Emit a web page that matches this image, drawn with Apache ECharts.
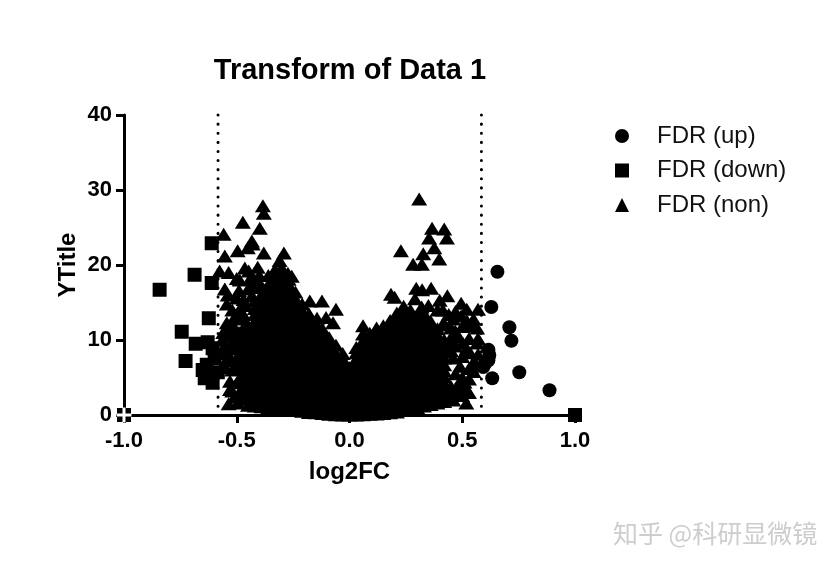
<!DOCTYPE html>
<html>
<head>
<meta charset="utf-8">
<style>html,body{margin:0;padding:0;background:#fff}#chart{width:839px;height:568px}</style>
<script src="https://cdn.jsdelivr.net/npm/echarts@6/dist/echarts.min.js"></script>
</head>
<body>
<div id="chart"></div>
<script>
var xTicks = [-1, -0.5, 0, 0.5, 1]
var yTicks = [0, 10, 20, 30, 40]
var cutoffs = [-0.583, 0.585]

var upPoints = [[0.656,19.1],[0.629,14.4],[0.709,11.7],[0.718,9.9],[0.753,5.7],[0.887,3.3],[0.633,4.9],
    [0.616,8.7],[0.62,8],[0.616,7.3],[0.6,6.8],[0.593,6.4]]

var downPoints = [[-1,0],[1,0],[-0.842,16.7],[-0.687,18.7],[-0.611,22.9],[-0.611,17.6],[-0.624,12.9],[-0.744,11.1],
    [-0.682,9.5],[-0.629,9.7],[-0.727,7.2],[-0.651,6],[-0.633,6.7],[-0.642,4.9],[-0.607,4.3],[-0.598,7.6],
    [-0.607,8.9],[-0.584,5.7]]

// dense middle part of the non significant points, one x per column
var coreX = [-0.475,-0.45,-0.42,-0.39,-0.36,-0.33,-0.3,-0.27,-0.24,-0.21,-0.18,-0.15,-0.12,-0.09,-0.06,-0.03,0,
    0.03,0.06,0.09,0.12,0.15,0.18,0.21,0.24,0.27,0.3,0.33,0.36,0.39,0.42,0.45]
var coreY = [
    [2.4,3.2,4.8,6.3,7.4,8.2,9.6,10.6,11.4,12.8],
    [1.3,2.1,3,3.8,4.6,5.5,6.3,7.1,8,8.8,9.6,10.5,11.3,12],
    [1.2,1.7,2.5,3.4,4.2,5,5.9,6.7,7.5,8.4,9.2,10,10.9,11.7,12.5,13.4,14.2,15.2],
    [1.1,1.9,2.8,3.6,4.4,5.3,6.1,6.9,7.8,8.6,9.4,10.3,11.1,11.9,12.8,13.6,14.4,15.3,16.1,17.2],
    [1,1.6,2.4,3.3,4.1,4.9,5.8,6.6,7.4,8.3,9.1,9.9,10.8,11.6,12.4,13.3,14.1,14.9,15.8,16.6,17.4,18.6],
    [0.9,1.8,2.7,3.5,4.3,5.2,6,6.8,7.7,8.5,9.3,10.2,11,11.8,12.7,13.5,14.3,15.2,16,16.8,17.7,18.5,19.4],
    [0.8,1.5,2.3,3.2,4,4.8,5.7,6.5,7.3,8.2,9,9.8,10.7,11.5,12.3,13.2,14,14.8,15.7,16.5,17.3,18.2,19,19.6],
    [0.7,1.6,2.5,3.3,4.1,5,5.8,6.6,7.5,8.3,9.1,10,10.8,11.6,12.5,13.3,14.1,15,15.8,16.6,17.4,18.1],
    [0.6,1.3,2.1,3,3.8,4.6,5.5,6.3,7.1,8,8.8,9.6,10.5,11.3,12.1,13,13.8,14.6,15.5,16.4],
    [0.5,1.4,2.3,3.1,3.9,4.8,5.6,6.4,7.3,8.1,8.9,9.8,10.6,11.4,12.3,13.1,13.9,14.8],
    [0.35,1.1,1.9,2.8,3.6,4.4,5.3,6.1,6.9,7.8,8.6,9.4,10.3,11.1,11.9,12.8,13.5],
    [0.3,1.2,2.1,2.9,3.7,4.6,5.4,6.2,7.1,7.9,8.7,9.6,10.4,11.2,12.2],
    [0.2,0.9,1.7,2.6,3.4,4.2,5.1,5.9,6.7,7.6,8.4,9.2,10.1,10.9,11.5],
    [0.1,1,1.9,2.7,3.5,4.4,5.2,6,6.9,7.7,8.5,9.4,10.3],
    [0.05,0.7,1.5,2.4,3.2,4,4.9,5.7,6.5,7.4,8.2,9.3],
    [0,0.8,1.7,2.5,3.3,4.2,5,5.8,6.7,7.5,8.2],
    [0,0.6,1.4,2.3,3.1,3.9,4.8,5.6,6.3],
    [0,0.8,1.7,2.5,3.3,4.2,5,5.8,6.7,7.5,8.3,9],
    [0.05,0.7,1.5,2.4,3.2,4,4.9,5.7,6.5,7.4,8.2,9,9.9,10.8,11.9],
    [0.1,1,1.9,2.7,3.5,4.4,5.2,6,6.9,7.7,8.5,9.4,10.2,10.9],
    [0.15,0.8,1.6,2.5,3.3,4.1,5,5.8,6.6,7.5,8.3,9.1,10,10.8,11.6],
    [0.2,1.1,2,2.8,3.6,4.5,5.3,6.1,7,7.8,8.6,9.5,10.3,11.1,11.9],
    [0.3,0.9,1.7,2.6,3.4,4.2,5.1,5.9,6.7,7.6,8.4,9.2,10.1,10.9,11.7,12.6],
    [0.4,1.2,2.1,2.9,3.7,4.6,5.4,6.2,7.1,7.9,8.7,9.6,10.4,11.2,12.1,12.9,13.6],
    [0.6,1.3,2.1,3,3.8,4.6,5.5,6.3,7.1,8,8.8,9.6,10.5,11.3,12.1,13,13.8,14.5],
    [0.8,1.6,2.5,3.3,4.1,5,5.8,6.6,7.5,8.3,9.1,10,10.8,11.6,12.5,13.2,14],
    [1,1.7,2.5,3.4,4.2,5,5.9,6.7,7.5,8.4,9.2,10,10.9,11.7,12.5,13.3],
    [1.2,2.1,3,3.8,4.6,5.5,6.3,7.1,8,8.8,9.6,10.5,11.2,12,12.8,13.6],
    [1.4,2.2,3,3.9,4.7,5.5,6.4,7.2,8,8.9,9.3,10.1,10.9,11.7,12.5],
    [1.6,2.5,3.4,4.2,5,5.9,6.7,7.4,8.2,9,9.9,10.7,11.5],
    [1.8,2.6,3.4,4.3,5.1,5.9,6.7,7.6,8.4,9.2,10],
    [2.2,3,3.8,8.6,9.4,10.3]
]

// points that stand apart around the dense part
var leftWing = [[-0.384,27.9],[-0.38,26.9],[-0.473,25.7],[-0.398,24.9],[-0.558,24.1],[-0.433,23.2],[-0.429,22.8],
    [-0.451,22.3],[-0.496,21.9],[-0.553,21.2],[-0.38,21.6],[-0.291,21.6],[-0.31,20.6],[-0.576,19.2],[-0.536,19],
    [-0.464,19.6],[-0.447,19.2],[-0.407,19.7],[-0.273,18.9],[-0.256,18.5],[-0.5,18.2],[-0.487,18],[-0.553,16.8],
    [-0.54,16],[-0.5,15.6],[-0.433,15.9],[-0.544,14.8],[-0.487,14.1],[-0.473,13.5],[-0.176,15.2],[-0.122,15.2],
    [-0.06,14.1],[-0.144,12.9],[-0.104,13],[-0.073,12.3],[-0.544,12.3],[-0.527,11.9],[-0.509,11.6],[-0.565,10],
    [-0.51,10],[-0.53,9.2],[-0.48,8.9],[-0.56,8.6],[-0.5,7.6],[-0.545,7.4],[-0.47,6.8],[-0.55,6.3],[-0.52,6],
    [-0.48,5.2],[-0.53,4.5],[-0.5,4.3],[-0.47,3.9],[-0.52,3.2],[-0.49,2.8],[-0.536,1.5],[-0.496,1.6],[-0.47,2.2],
    [-0.56,11],[-0.54,10.6],[-0.52,10.8],[-0.49,11],[-0.55,9.4],[-0.52,8.8],[-0.5,9.2],[-0.54,8.2],[-0.52,7.2],
    [-0.49,7.8],[-0.49,6.5],[-0.53,3.4],[-0.51,2.4],[-0.52,14],[-0.51,13],[-0.49,16.6],[-0.47,15.4],[-0.46,14.6],
    [-0.45,16.8],[-0.42,18],[-0.44,18.2],[-0.4,18.6],[-0.425,17]]

var rightWing = [[0.309,28.8],[0.366,24.9],[0.42,24.8],[0.432,23.6],[0.353,23.6],[0.376,22.3],[0.228,21.9],[0.327,21.5],
    [0.398,20.8],[0.321,20.1],[0.282,20.1],[0.296,16.9],[0.322,16.7],[0.362,16.9],[0.29,15.5],[0.184,16.1],[0.2,15.7],
    [0.434,15.9],[0.495,14.9],[0.52,14.1],[0.57,14.1],[0.32,14.4],[0.35,14.6],[0.39,14],[0.414,14],[0.495,13.2],
    [0.417,12.3],[0.54,11.9],[0.566,11.6],[0.469,11.2],[0.53,10.2],[0.57,10.2],[0.503,9.6],[0.566,9.6],[0.44,9.4],
    [0.47,9.2],[0.535,8.3],[0.57,8.1],[0.46,7.6],[0.49,6.5],[0.55,7],[0.55,5.8],[0.53,4.8],[0.47,5.5],[0.5,5],
    [0.49,4],[0.47,3.5],[0.51,3.5],[0.5,2.6],[0.45,3],[0.46,2],[0.518,1.6],[0.54,6.4],
    [0.45,11.6],[0.48,10.4],[0.5,11.8],[0.46,12.8],[0.52,12.6],[0.55,12.8],[0.44,13.4],[0.47,13.8],[0.52,8.9],
    [0.5,7.8],[0.53,6.2],[0.56,6.8],[0.51,4.4],[0.48,2.8],[0.53,3],[0.42,12],[0.4,15.3]]

var nonPoints = leftWing.concat(rightWing)
coreX.forEach(function(x, i) {
    coreY[i].forEach(function(y) {
        nonPoints.push([x, y])
    })
})

var axisFont = {color: '#000', fontFamily: 'Liberation Sans', fontWeight: 'bold'}

function cutoffLine(x) {
    return {
        type: 'line',
        data: [[x, yTicks[4]], [x, yTicks[0]]],
        showSymbol: false,
        silent: true,
        clip: false,
        z: 1,
        lineStyle: {color: '#000', width: 3, type: [0.1, 9], cap: 'round'}
    }
}

var chart = echarts.init(document.getElementById('chart'))
chart.setOption({
    animation: false,
    backgroundColor: '#fff',
    title: {
        text: 'Transform of Data 1',
        left: 345,
        top: 51,
        textAlign: 'center',
        textStyle: {color: '#000', fontFamily: 'Liberation Sans', fontWeight: 'bold', fontSize: 29}
    },
    legend: {
        data: ['FDR (up)', 'FDR (down)', 'FDR (non)'],
        orient: 'vertical',
        left: 615,
        top: 124,
        padding: 0,
        itemWidth: 14,
        itemHeight: 14,
        itemGap: 10.5,
        textStyle: {color: '#111', fontFamily: 'Liberation Sans', fontSize: 24, padding: [0, 0, 0, 23]}
    },
    grid: {left: 124, right: 264, top: 115, bottom: 153},
    xAxis: {
        type: 'value',
        min: xTicks[0],
        max: xTicks[4],
        interval: 0.5,
        name: 'log2FC',
        nameLocation: 'middle',
        nameGap: 45,
        nameTextStyle: Object.assign({fontSize: 24}, axisFont),
        splitLine: {show: false},
        axisLine: {onZero: false, lineStyle: {color: '#000', width: 3}},
        axisTick: {length: 8, lineStyle: {color: '#000', width: 3}},
        axisLabel: Object.assign({fontSize: 22, margin: 15, formatter: function(v) { return v.toFixed(1) }}, axisFont)
    },
    yAxis: {
        type: 'value',
        min: yTicks[0],
        max: yTicks[4],
        interval: 10,
        name: 'YTitle',
        nameLocation: 'middle',
        nameGap: 44,
        nameMoveOverlap: false,
        nameTextStyle: Object.assign({fontSize: 24}, axisFont),
        splitLine: {show: false},
        axisLine: {show: true, onZero: false, lineStyle: {color: '#000', width: 3}},
        axisTick: {show: true, length: 8, lineStyle: {color: '#000', width: 3}},
        axisLabel: Object.assign({fontSize: 22, margin: 12}, axisFont)
    },
    series: [
        cutoffLine(cutoffs[0]),
        cutoffLine(cutoffs[1]),
        {
            name: 'FDR (non)', type: 'scatter', data: nonPoints, symbol: 'triangle',
            symbolSize: [16, 13], clip: false, z: 2, itemStyle: {color: '#000', opacity: 1}
        },
        {
            name: 'FDR (down)', type: 'scatter', data: downPoints, symbol: 'rect',
            symbolSize: 14, clip: false, z: 3, itemStyle: {color: '#000', opacity: 1}
        },
        {
            name: 'FDR (up)', type: 'scatter', data: upPoints, symbol: 'circle',
            symbolSize: 14, clip: false, z: 4, itemStyle: {color: '#000', opacity: 1}
        },
        {
            // white cross left on the square that sits at the axis corner
            type: 'scatter', data: [downPoints[0]], symbol: 'path://M4 0H6V4H10V6H6V10H4V6H0V4H4Z',
            symbolSize: 15, clip: false, silent: true, z: 5, itemStyle: {color: '#fff', opacity: 1}
        }
    ],
    graphic: [{
        type: 'text',
        left: 613,
        top: 521,
        style: {text: '知乎 @科研显微镜', fill: '#cdcdcd', font: '25px "Noto Sans CJK SC"'}
    }]
})
</script>
</body>
</html>
